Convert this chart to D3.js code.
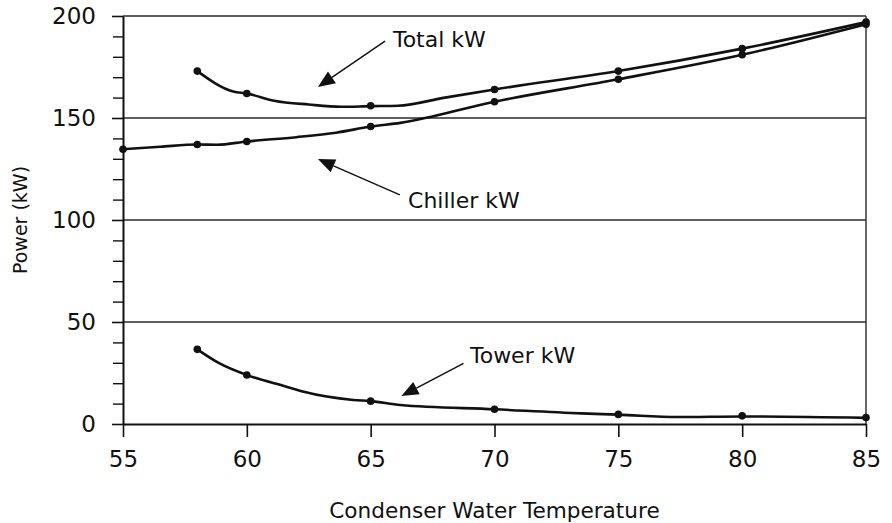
<!DOCTYPE html>
<html>
<head>
<meta charset="utf-8">
<script src="https://cdn.jsdelivr.net/npm/d3@7"></script>
<style>
  body { margin: 0; background: #fff; }
  svg text { font-family: "DejaVu Sans", sans-serif; fill: #111; }
</style>
</head>
<body>
<svg id="chart"></svg>
<script>
// axis ticks
const tempTicks = [55, 60, 65, 70, 75, 80, 85];
const powerTicks = [0, 50, 100, 150, 200];
const minorTicks = [10, 20, 30, 40, 60, 70, 80, 90, 110, 120, 130, 140, 160, 170, 180, 190];

// measured points (markers)
const totalTemps = [58, 60, 65, 70, 75, 80, 85];
const totalKW = [173, 162, 156, 164, 173, 184, 197];
const chillerTemps = [55, 58, 60, 65, 70, 75, 80, 85];
const chillerKW = [134.7, 137, 138.5, 145.8, 158, 169, 181, 196];
const towerTemps = [58, 60, 65, 70, 75, 80, 85];
const towerKW = [36.6, 24, 11.2, 7.2, 4.7, 4, 3.2];

// curve vertices
const totalCurveT = [58, 59.45, 60, 61.1, 62.5, 63.8, 65, 66.1, 68, 70, 75, 80, 85];
const totalCurveKW = [173, 163, 162, 158.5, 156.6, 155.5, 155.8, 156, 160, 164, 173, 184, 197];
const chillerCurveT = [55, 56.5, 58, 58.8, 60, 62, 63.6, 65, 66.2, 70, 75, 80, 85];
const chillerCurveKW = [134.7, 135.9, 137, 136.9, 138.5, 140.6, 142.8, 145.8, 147.6, 158, 169, 181, 196];
const towerCurveT = [58, 58.9, 60, 61.6, 62.3, 64.3, 65, 66.2, 70, 73.5, 75, 77.4, 80, 85];
const towerCurveKW = [36.6, 29.7, 24, 18.3, 15.8, 11.8, 11.2, 9.3, 7.2, 5.2, 4.6, 3.4, 3.7, 3.0];

const labels = ["Total kW", "Chiller kW", "Tower kW"];

const zip = (xs, ys) => xs.map((x, i) => ({x: x, y: ys[i]}));

class LineChart {
  constructor(_config) {
    this.config = {
      parentElement: _config.parentElement,
      containerWidth: _config.containerWidth || 892,
      containerHeight: _config.containerHeight || 523,
      margin: _config.margin || {top: 16, right: 26, bottom: 99, left: 123}
    };
    this.series = [
      {points: zip(totalTemps, totalKW), curve: zip(totalCurveT, totalCurveKW)},
      {points: zip(chillerTemps, chillerKW), curve: zip(chillerCurveT, chillerCurveKW)},
      {points: zip(towerTemps, towerKW), curve: zip(towerCurveT, towerCurveKW)}
    ];
    // arrow annotations in data units: tip, tail, label anchor
    this.notes = [
      {text: labels[0], tip: [62.87, 165.2], tail: [65.58, 187.7], at: [65.9, 184.8]},
      {text: labels[1], tip: [62.87, 129.9], tail: [66.18, 112.3], at: [66.51, 105.9]},
      {text: labels[2], tip: [66.24, 13.7], tail: [68.75, 29.7], at: [69.01, 29.9]}
    ];
    this.initVis();
  }

  initVis() {
    let vis = this;
    vis.width = vis.config.containerWidth - vis.config.margin.left - vis.config.margin.right;
    vis.height = vis.config.containerHeight - vis.config.margin.top - vis.config.margin.bottom;

    vis.svg = d3.select(vis.config.parentElement)
      .attr("width", vis.config.containerWidth)
      .attr("height", vis.config.containerHeight);

    vis.chart = vis.svg.append("g")
      .attr("transform", `translate(${vis.config.margin.left},${vis.config.margin.top})`);

    vis.xScale = d3.scaleLinear().domain([55, 85]).range([0, vis.width]);
    vis.yScale = d3.scaleLinear().domain([0, 200]).range([vis.height, 0]);

    this.renderVis();
  }

  renderVis() {
    let vis = this;

    // horizontal gridlines + right frame
    vis.chart.selectAll(".grid")
      .data(powerTicks.filter(d => d > 0))
      .join("line")
      .attr("class", "grid")
      .attr("x1", 0).attr("x2", vis.width)
      .attr("y1", d => vis.yScale(d)).attr("y2", d => vis.yScale(d))
      .attr("stroke", "#2a2a2a").attr("stroke-width", 1.4);

    vis.chart.append("line")
      .attr("x1", vis.width).attr("x2", vis.width)
      .attr("y1", vis.yScale(200)).attr("y2", vis.yScale(0))
      .attr("stroke", "#2a2a2a").attr("stroke-width", 1.4);

    // minor y ticks
    vis.chart.append("g")
      .call(d3.axisLeft(vis.yScale).tickValues(minorTicks).tickSize(10).tickFormat(""))
      .call(g => g.select(".domain").remove())
      .call(g => g.selectAll("line").attr("stroke", "#111").attr("stroke-width", 1.4));

    // major y axis
    vis.chart.append("g")
      .call(d3.axisLeft(vis.yScale).tickValues(powerTicks).tickSize(11).tickPadding(16).tickSizeOuter(0))
      .call(g => g.select(".domain").attr("stroke", "#111").attr("stroke-width", 2))
      .call(g => g.selectAll("line").attr("stroke", "#111").attr("stroke-width", 1.6))
      .call(g => g.selectAll("text").style("font-size", "23px").attr("fill", "#111"));

    // x axis
    vis.chart.append("g")
      .attr("transform", `translate(0,${vis.height})`)
      .call(d3.axisBottom(vis.xScale).tickValues(tempTicks).tickSize(13).tickPadding(14).tickSizeOuter(0))
      .call(g => g.select(".domain").attr("stroke", "#111").attr("stroke-width", 2))
      .call(g => g.selectAll("line").attr("stroke", "#111").attr("stroke-width", 1.6))
      .call(g => g.selectAll("text").style("font-size", "23px").attr("fill", "#111"));

    // curves
    const line = d3.line()
      .x(d => vis.xScale(d.x))
      .y(d => vis.yScale(d.y))
      .curve(d3.curveMonotoneX);

    vis.chart.selectAll(".series")
      .data(vis.series)
      .join("path")
      .attr("class", "series")
      .attr("d", d => line(d.curve))
      .attr("fill", "none")
      .attr("stroke", "#111")
      .attr("stroke-width", 2.6)
      .attr("stroke-linejoin", "round");

    vis.chart.selectAll(".marker")
      .data(vis.series.flatMap(s => s.points))
      .join("circle")
      .attr("class", "marker")
      .attr("cx", d => vis.xScale(d.x))
      .attr("cy", d => vis.yScale(d.y))
      .attr("r", 3.8)
      .attr("fill", "#111");

    // arrows + labels
    const notes = vis.chart.selectAll(".note")
      .data(vis.notes)
      .join("g")
      .attr("class", "note");

    notes.each(function(d) {
      const g = d3.select(this);
      const tx = vis.xScale(d.tip[0]), ty = vis.yScale(d.tip[1]);
      const sx = vis.xScale(d.tail[0]), sy = vis.yScale(d.tail[1]);
      const ang = Math.atan2(sy - ty, sx - tx);
      const len = 17, half = 7;
      const bx = tx + len * Math.cos(ang), by = ty + len * Math.sin(ang);
      const px = -Math.sin(ang) * half, py = Math.cos(ang) * half;
      g.append("line")
        .attr("x1", sx).attr("y1", sy).attr("x2", bx).attr("y2", by)
        .attr("stroke", "#111").attr("stroke-width", 1.5);
      g.append("path")
        .attr("d", `M${tx},${ty}L${bx + px},${by + py}L${bx - px},${by - py}Z`)
        .attr("fill", "#111");
      g.append("text")
        .attr("x", vis.xScale(d.at[0]))
        .attr("y", vis.yScale(d.at[1]))
        .style("font-size", "22px")
        .text(d.text);
    });

    // axis titles
    vis.chart.append("text")
      .attr("x", vis.width / 2)
      .attr("y", 502)
      .attr("text-anchor", "middle")
      .style("font-size", "21.6px")
      .text("Condenser Water Temperature");

    vis.chart.append("text")
      .attr("transform", `translate(${27 - vis.config.margin.left},${vis.height / 2}) rotate(-90)`)
      .attr("text-anchor", "middle")
      .style("font-size", "19px")
      .text("Power (kW)");
  }
}

new LineChart({parentElement: "#chart"});
</script>
</body>
</html>
